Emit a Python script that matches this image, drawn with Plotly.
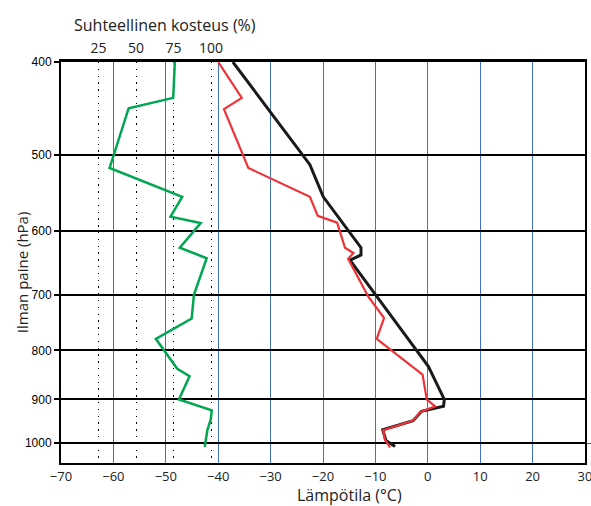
import numpy as np
import plotly.graph_objects as go

# Relative humidity profile (green), % vs pressure hPa
rh_p = [400, 436, 447, 516, 553, 580, 589, 625, 641, 700, 741, 778, 836, 851, 900, 924, 945, 968, 1009]
rh = [75.9, 74.8, 45.1, 32.4, 80.8, 73.0, 93.1, 79.2, 97.1, 88.6, 87.1, 63.2, 77.5, 85.7, 78.6, 100.5, 99.8, 97.6, 95.8]

# Red profile (°C)
red_p = [400, 436, 448, 516, 553, 579, 588.5, 625, 633, 642, 703, 740, 778, 848, 900, 915, 928, 947, 969, 991, 1010]
red_t = [-40, -35.5, -38.9, -34.25, -22.5, -21.0, -17.3, -15.8, -14.2, -15.2, -11.35, -8.35, -9.75, -1.0, -0.2, 1.4, -1.5, -2.8, -8.5, -8.2, -7.2]

# Black profile (°C)
blk_p = [400, 512, 553, 625, 636, 644, 831, 900, 915, 926, 947, 968, 993, 1008]
blk_t = [-37.2, -22.5, -19.95, -12.75, -12.75, -14.85, 0.1, 3.15, 3.0, -1.2, -2.8, -8.6, -8.0, -6.25]

p_ticks = [400, 500, 600, 700, 800, 900, 1000]
t_ticks = [-70, -60, -50, -40, -30, -20, -10, 0, 10, 20, 30]
rh_ticks = [25, 50, 75, 100]

FONT = "Open Sans"

fig = go.Figure()
fig.add_trace(go.Scatter(x=rh, y=rh_p, xaxis="x2", yaxis="y", mode="lines",
                         line=dict(color="#00a651", width=2.5), showlegend=False))
fig.add_trace(go.Scatter(x=blk_t, y=blk_p, mode="lines",
                         line=dict(color="#1a1a1a", width=3), showlegend=False))
fig.add_trace(go.Scatter(x=red_t, y=red_p, mode="lines",
                         line=dict(color="#ee3338", width=2.2), showlegend=False))
fig.add_trace(go.Scatter(x=[-70], y=[1000], yaxis="y2", mode="markers",
                         marker=dict(opacity=0), showlegend=False, hoverinfo="skip"))

fig.update_layout(
    width=591, height=506,
    margin=dict(l=61, r=6, t=62, b=43, autoexpand=False),
    plot_bgcolor="white", paper_bgcolor="white",
    xaxis=dict(range=[-70, 30], tickvals=t_ticks, automargin=False,
               ticklabeloverflow="allow",
               ticktext=[("\u2212" + str(-v)) if v < 0 else str(v) for v in t_ticks],
               showgrid=True, gridcolor="#3f74bf", gridwidth=1.2,
               showline=True, linecolor="black", linewidth=2, mirror=False,
               ticks="", zeroline=False,
               tickfont=dict(family=FONT, size=13, color="#222")),
    xaxis2=dict(range=[0, 349.3], overlaying="x", side="top", anchor="y",
                automargin=False, ticklabeloverflow="allow",
                tickvals=rh_ticks, showgrid=True, gridcolor="black", gridwidth=1.3,
                griddash="1.3px,5.5px", showline=True, linecolor="black", linewidth=3,
                ticks="", zeroline=False,
                tickfont=dict(family=FONT, size=14, color="#222")),
    yaxis=dict(type="log", range=[np.log10(1048.5), np.log10(400)], automargin=False,
               tickvals=p_ticks, ticktext=[str(v) for v in p_ticks],
               showgrid=True, gridcolor="black", gridwidth=1.5,
               showline=True, linecolor="black", linewidth=2,
               ticks="outside", ticklen=5, tickcolor="black", tickwidth=1.5,
               zeroline=False,
               tickfont=dict(family="Liberation Sans", size=12, color="black")),
    yaxis2=dict(type="log", range=[np.log10(1048.5), np.log10(400)], automargin=False,
                overlaying="y", side="right", anchor="x",
                tickvals=[1000], showticklabels=False, ticks="outside",
                ticklen=6, tickcolor="#555", tickwidth=1, showgrid=False,
                showline=True, linecolor="black", linewidth=2, zeroline=False),
    annotations=[
        dict(text="Suhteellinen kosteus (%)", xref="paper", yref="paper",
             x=0.198, y=1.092, xanchor="center", yanchor="middle", showarrow=False,
             font=dict(family=FONT, size=16, color="#222")),
        dict(text="Ilman paine (hPa)", xref="paper", yref="paper", textangle=-90,
             x=-0.0744, y=0.476, xanchor="center", yanchor="middle", showarrow=False,
             font=dict(family=FONT, size=15, color="#222")),
        dict(text="Lämpötila (°C)", xref="paper", yref="paper",
             x=0.55, y=-0.0798, xanchor="center", yanchor="middle", showarrow=False,
             font=dict(family=FONT, size=16, color="#222")),
    ],
)

fig.write_html("out.html", config={"displayModeBar": False})
with open("out.html", encoding="utf-8") as f:
    html = f.read()
html = html.replace("<body>", '<body style="margin:0;padding:0;">', 1)
with open("out.html", "w", encoding="utf-8") as f:
    f.write(html)
